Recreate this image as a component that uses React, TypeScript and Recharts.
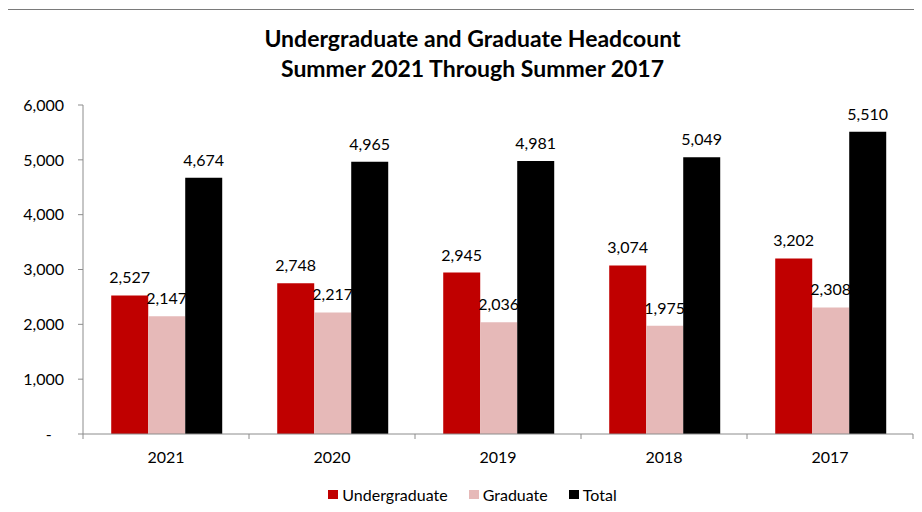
import React from 'react';
import { BarChart, Bar, XAxis, YAxis, Legend, LabelList } from 'recharts';

const years = ['2021', '2020', '2019', '2018', '2017'];
const undergraduate = [2527, 2748, 2945, 3074, 3202];
const graduate = [2147, 2217, 2036, 1975, 2308];
const total = [4674, 4965, 4981, 5049, 5510];
const yTicks = [0, 1000, 2000, 3000, 4000, 5000, 6000];
const boundaryTicks = [0, 1, 2, 3, 4, 5];
const titleLines = ['Undergraduate and Graduate Headcount', 'Summer 2021 Through Summer 2017'];

const series = [
  { key: 'Undergraduate', color: '#C00000' },
  { key: 'Graduate', color: '#E6B9B8' },
  { key: 'Total', color: '#000000' },
];

const data = years.map((year, i) => ({
  year,
  slot: i + 0.5,
  Undergraduate: undergraduate[i],
  Graduate: graduate[i],
  Total: total[i],
}));

const FONT = 'Lato, "Open Sans", sans-serif';
const AXIS = '#8c8c8c';
const BORDER = '#7a7a7a';
const W = 929;
const H = 520;
const FS = 16;

const fmt = (v: number) => (v === 0 ? '-\u00A0\u00A0\u00A0' : v.toLocaleString('en-US'));

const renderLegend = () => (
  <div
    style={{
      display: 'flex',
      justifyContent: 'center',
      alignItems: 'center',
      height: 20,
      fontFamily: FONT,
      fontSize: FS,
      color: '#000',
    }}
  >
    {series.map((s, i) => (
      <div
        key={s.key}
        style={{ display: 'flex', alignItems: 'center', marginRight: i < series.length - 1 ? 21 : 0 }}
      >
        <span style={{ display: 'inline-block', width: 10, height: 9, background: s.color, marginRight: 4 }} />
        <span>{s.key}</span>
      </div>
    ))}
  </div>
);

export default function App() {
  return (
    <div
      style={{
        position: 'relative',
        left: -1,
        top: 1,
        width: 915,
        height: 503,
        overflow: 'hidden',
        boxSizing: 'border-box',
        borderLeft: `1px solid ${BORDER}`,
        borderTop: `1px solid ${BORDER}`,
        background: '#fff',
      }}
    >
      <div style={{ position: 'relative', width: W, height: H }}>
        <div
          style={{
            position: 'absolute',
            top: 13,
            left: 0,
            width: W,
            textAlign: 'center',
            fontFamily: FONT,
            fontWeight: 700,
            fontSize: 23,
            lineHeight: '30px',
            color: '#000',
            zIndex: 1,
          }}
        >
          {titleLines.map((t) => (
            <div key={t}>{t}</div>
          ))}
        </div>
        <BarChart
          width={W}
          height={H}
          data={data}
          margin={{ top: 95, right: 24, left: 0, bottom: 25.5 }}
          barGap={0}
          barCategoryGap="17%"
        >
          <XAxis
            dataKey="year"
            axisLine={{ stroke: AXIS }}
            tickLine={false}
            tickSize={0}
            tickMargin={18}
            height={0.01}
            tick={{ fill: '#000', fontSize: FS, fontFamily: FONT }}
          />
          <XAxis
            xAxisId="b"
            dataKey="slot"
            type="number"
            domain={[0, 5]}
            ticks={boundaryTicks}
            interval={0}
            allowDataOverflow
            axisLine={false}
            tickLine={{ stroke: AXIS }}
            tickSize={5}
            tickFormatter={() => ''}
            height={50.49}
          />
          <YAxis
            domain={[0, 6000]}
            ticks={yTicks}
            interval={0}
            width={75}
            tickSize={5}
            tickMargin={14}
            axisLine={{ stroke: AXIS }}
            tickLine={{ stroke: AXIS }}
            tick={{ fill: '#000', fontSize: FS, fontFamily: FONT }}
            tickFormatter={fmt}
          />
          <Legend
            verticalAlign="bottom"
            content={renderLegend}
            wrapperStyle={{ left: 0, width: W }}
          />
          {series.map((s) => (
            <Bar key={s.key} dataKey={s.key} name={s.key} fill={s.color} isAnimationActive={false}>
              <LabelList
                dataKey={s.key}
                position="top"
                offset={12}
                formatter={(v: any) => Number(v).toLocaleString('en-US')}
                style={{ fill: '#000', fontSize: FS, fontFamily: FONT }}
              />
            </Bar>
          ))}
        </BarChart>
      </div>
    </div>
  );
}
